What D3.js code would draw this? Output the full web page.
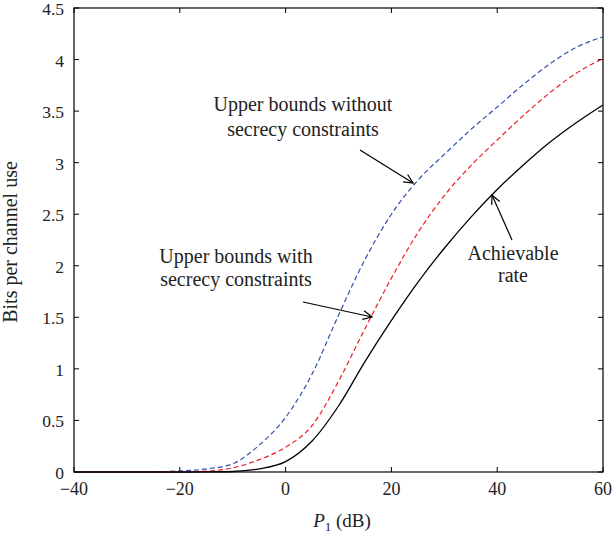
<!DOCTYPE html>
<html><head><meta charset="utf-8">
<script src="https://cdn.jsdelivr.net/npm/d3@7"></script>
<style>body{margin:0;background:#fff}svg{display:block}text{font-family:"Liberation Serif","DejaVu Serif",serif;fill:#222}</style>
</head><body><svg id="c" width="614" height="539"></svg>
<script>
const powerDb = [-40,-35,-30,-25,-20,-15,-10,-5,0,5,10,15,20,25,30,35,40,45,50,55,60];
const upperNoSecrecy = [0,0,0,0.002,0.01,0.03,0.08,0.26,0.53,0.95,1.52,2.06,2.50,2.83,3.08,3.32,3.54,3.76,3.96,4.12,4.22];
const upperSecrecy = [0,0,0,0,0.002,0.008,0.04,0.12,0.24,0.45,0.88,1.39,1.88,2.32,2.68,2.97,3.22,3.46,3.68,3.87,4.01];
const achievable = [0,0,0,0,0,0.001,0.005,0.03,0.10,0.30,0.64,1.07,1.47,1.84,2.17,2.47,2.74,2.98,3.20,3.39,3.56];
const xTicks = [-40,-20,0,20,40,60];
const yTicks = [0,0.5,1,1.5,2,2.5,3,3.5,4,4.5];

const svg = d3.select("#c");
const L=74,R=603,T=8,B=472;
const x = d3.scaleLinear().domain([-40,60]).range([L,R]);
const y = d3.scaleLinear().domain([0,4.5]).range([B,T]);
const fmt = d => d<0 ? "\u2212"+Math.abs(d) : String(d);

// frame
svg.append("rect").attr("x",L).attr("y",T).attr("width",R-L).attr("height",B-T)
  .attr("fill","none").attr("stroke","#000").attr("stroke-width",1.2);
// ticks
const tl=5;
const tk = svg.append("g").attr("stroke","#000").attr("stroke-width",1);
xTicks.forEach(v=>{
  tk.append("line").attr("x1",x(v)).attr("x2",x(v)).attr("y1",B).attr("y2",B-tl);
  tk.append("line").attr("x1",x(v)).attr("x2",x(v)).attr("y1",T).attr("y2",T+tl);
});
yTicks.forEach(v=>{
  tk.append("line").attr("y1",y(v)).attr("y2",y(v)).attr("x1",L).attr("x2",L+tl);
  tk.append("line").attr("y1",y(v)).attr("y2",y(v)).attr("x1",R).attr("x2",R-tl);
});
svg.append("g").selectAll("text").data(xTicks).join("text")
  .attr("x",d=>x(d)).attr("y",B+23).attr("text-anchor","middle").attr("font-size",18).text(fmt);
svg.append("g").selectAll("text").data(yTicks).join("text")
  .attr("x",L-10).attr("y",d=>y(d)+7).attr("text-anchor","end").attr("font-size",17.5).text(d=>String(d));

// axis labels
svg.append("text").attr("transform","translate(17,242) rotate(-90)").attr("text-anchor","middle")
  .attr("font-size",20).text("Bits per channel use");
const xl = svg.append("text").attr("x",342).attr("y",527).attr("text-anchor","middle").attr("font-size",19);
xl.append("tspan").attr("font-style","italic").text("P");
xl.append("tspan").attr("font-size",13).attr("dy",4).text("1");
xl.append("tspan").attr("dy",-4).text(" (dB)");

// curves
const line = vals => d3.line().x((d,i)=>x(powerDb[i])).y(d=>y(d)).curve(d3.curveMonotoneX)(vals);
svg.append("path").attr("d",line(upperNoSecrecy)).attr("fill","none").attr("stroke","#2f4fb0")
  .attr("stroke-width",1.2).attr("stroke-dasharray","5,3");
svg.append("path").attr("d",line(upperSecrecy)).attr("fill","none").attr("stroke","#ee1c25")
  .attr("stroke-width",1.2).attr("stroke-dasharray","5,3");
svg.append("path").attr("d",line(achievable)).attr("fill","none").attr("stroke","#000")
  .attr("stroke-width",1.3);

// annotations
function label(lines, cx, y0, dy){
  lines.forEach((t,i)=>svg.append("text").attr("x",cx).attr("y",y0+i*dy).attr("text-anchor","middle").attr("font-size",20).text(t));
}
label(["Upper bounds without","secrecy constraints"],303,111,25);
label(["Upper bounds with","secrecy constraints"],236,263,23);
label(["Achievable","rate"],513,260,22);
function arrow(x1,y1,x2,y2){
  svg.append("line").attr("x1",x1).attr("y1",y1).attr("x2",x2).attr("y2",y2).attr("stroke","#000").attr("stroke-width",1.2);
  const a=Math.atan2(y2-y1,x2-x1), h=10, w=0.45;
  const p=[[x2-h*Math.cos(a-w),y2-h*Math.sin(a-w)],[x2,y2],[x2-h*Math.cos(a+w),y2-h*Math.sin(a+w)]];
  svg.append("path").attr("d",d3.line()(p)).attr("fill","none").attr("stroke","#000").attr("stroke-width",1.2);
}
arrow(360,150,413,183);
arrow(303,302,372,317);
arrow(512,240,492,195);
</script></body></html>
